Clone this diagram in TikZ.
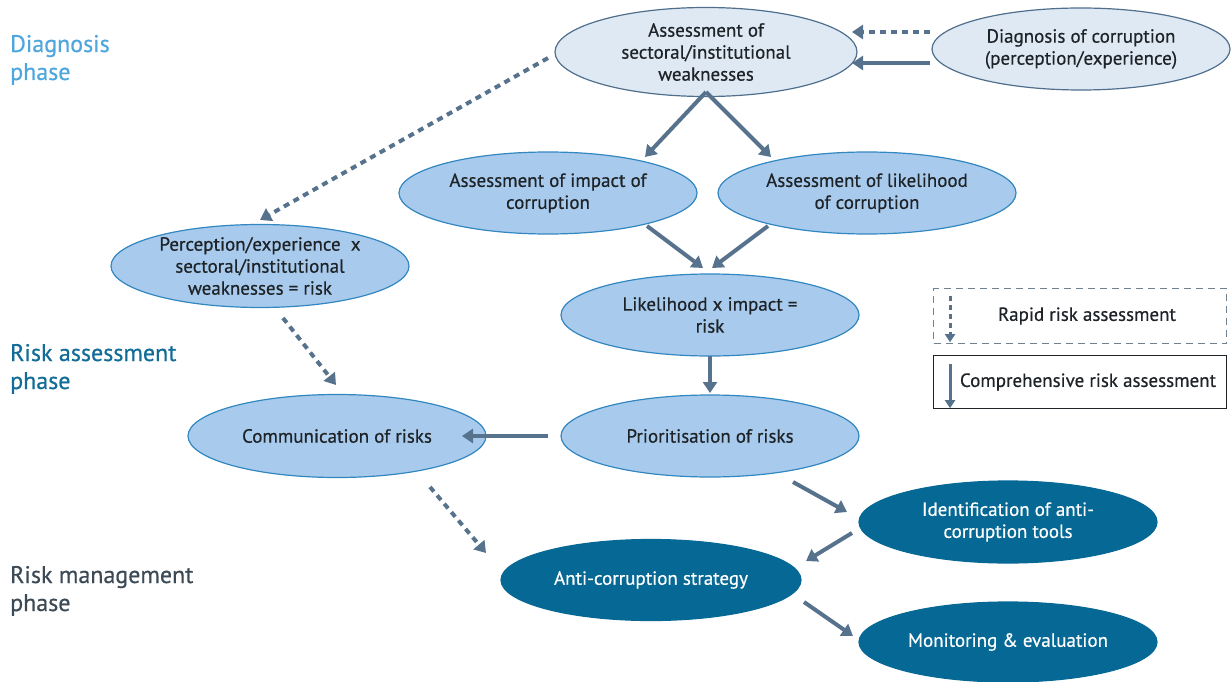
\documentclass[tikz,border=0pt]{standalone}
\usepackage{fontspec}
\setmainfont{PT Sans}[FakeBold=0.5]
\usetikzlibrary{shapes.geometric,arrows.meta}
\definecolor{arr}{HTML}{57728C}
\definecolor{palef}{HTML}{DFE9F4}
\definecolor{paleb}{HTML}{4F6F8C}
\definecolor{midf}{HTML}{A8CAEC}
\definecolor{midb}{HTML}{3287C0}
\definecolor{darkf}{HTML}{066894}
\definecolor{txt}{HTML}{1E2328}
\definecolor{phdiag}{HTML}{4FA6DC}
\definecolor{phrisk}{HTML}{126C97}
\definecolor{phman}{HTML}{3C4A56}
\definecolor{legb}{HTML}{6F8292}
\begin{document}
\begin{tikzpicture}[x=1pt,y=-1pt,
  base/.style={ellipse, line width=1.2pt, minimum width=298pt, minimum height=82pt, inner sep=0pt, align=center, font=\fontsize{19}{22}\selectfont, text=txt},
  pale/.style={base, fill=palef, draw=paleb},
  mid/.style={base, fill=midf, draw=midb},
  dark/.style={base, fill=darkf, draw=darkf, text=white},
  conn/.style={draw=arr, line width=4pt, -{Triangle[length=11pt,width=14pt]}},
  dconn/.style={conn, dash pattern=on 6pt off 5pt},
  legconn/.style={draw=arr, line width=3pt, -{Triangle[length=8pt,width=10pt]}},
  phase/.style={anchor=base west, align=left, inner sep=0pt, font=\fontsize{24}{28}\selectfont},
  legtext/.style={inner sep=0pt, font=\fontsize{19}{22}\selectfont, text=txt}
]
\useasboundingbox (0,0) rectangle (1231,682);

% phase labels (anchor = baseline of last line)
\node[phase, text=phdiag] (ph1) at (10,80) {Diagnosis\\phase};
\node[phase, text=phrisk] (ph2) at (10,389) {Risk assessment\\phase};
\node[phase, text=phman] (ph3) at (10,611) {Risk management\\phase};

% nodes
\node[pale, minimum width=302pt, minimum height=89pt] (A) at (706,52) {Assessment of\\sectoral/institutional\\weaknesses};
\node[pale] (D) at (1081,49) {Diagnosis of corruption\\(perception/experience)};
\node[mid] (I) at (548,193) {Assessment of impact of\\corruption};
\node[mid] (L) at (867,193) {Assessment of likelihood\\of corruption};
\node[mid, minimum height=83pt] (P) at (260,266) {Perception/experience~~x\\sectoral/institutional\\weaknesses = risk};
\node[mid] (X) at (710,315) {Likelihood x impact =\\risk};
\node[mid] (R) at (710,436) {Prioritisation of risks};
\node[mid, minimum height=83pt] (C) at (337,436) {Communication of risks};
\node[dark] (T) at (1008,522) {Identification of anti-\\corruption tools};
\node[dark, minimum width=300pt, minimum height=81pt] (S) at (651,580) {Anti-corruption strategy};
\node[dark, minimum height=80pt] (M) at (1008,642) {Monitoring \& evaluation};

% connectors
\draw[dconn] ([shift={(-151,-17)}]D.center) -- ([shift={(146,-20)}]A.center);
\draw[conn] ([shift={(-151,14)}]D.center) -- ([shift={(146,11)}]A.center);
\draw[conn] ([shift={(0,40)}]A.center) -- ([shift={(97,-36)}]I.center);
\draw[conn] ([shift={(0,40)}]A.center) -- ([shift={(-96,-36)}]L.center);
\draw[conn] ([shift={(99,33)}]I.center) -- ([shift={(-7,-47)}]X.center);
\draw[conn] ([shift={(-99,33)}]L.center) -- ([shift={(2,-47)}]X.center);
\draw[conn] ([shift={(0,41)}]X.center) -- ([shift={(0,-43)}]R.center);
\draw[conn] ([shift={(-162,0)}]R.center) -- ([shift={(125,0)}]C.center);
\draw[dconn] ([shift={(-158,6)}]A.center) -- ([shift={(0,-46)}]P.center);
\draw[dconn] ([shift={(23,52)}]P.center) -- ([shift={(-1,-51)}]C.center);
\draw[dconn] ([shift={(93,51)}]C.center) -- ([shift={(-165,-27)}]S.center);
\draw[conn] ([shift={(83,46)}]R.center) -- ([shift={(-161,-10)}]T.center);
\draw[conn] ([shift={(-156,11)}]T.center) -- ([shift={(155,-19)}]S.center);
\draw[conn] ([shift={(153,22)}]S.center) -- ([shift={(-155,-6)}]M.center);

% legend
\node[draw=legb, line width=1.2pt, dash pattern=on 7pt off 5pt, minimum width=293pt, minimum height=55pt, inner sep=0pt, anchor=north west] (rapid) at (933,288) {};
\node[legtext] (rapidt) at (1087,316) {Rapid risk assessment};
\draw[legconn, dash pattern=on 5pt off 4pt] ([shift={(17,8)}]rapid.north west) -- ([shift={(17,-2)}]rapid.south west);
\node[draw=txt, line width=1.2pt, minimum width=293pt, minimum height=53pt, inner sep=0pt, anchor=north west] (comp) at (933,355) {};
\node[legtext] (compt) at (1088,382) {Comprehensive risk assessment};
\draw[legconn] ([shift={(17,9)}]comp.north west) -- ([shift={(17,-1)}]comp.south west);
\end{tikzpicture}
\end{document}
